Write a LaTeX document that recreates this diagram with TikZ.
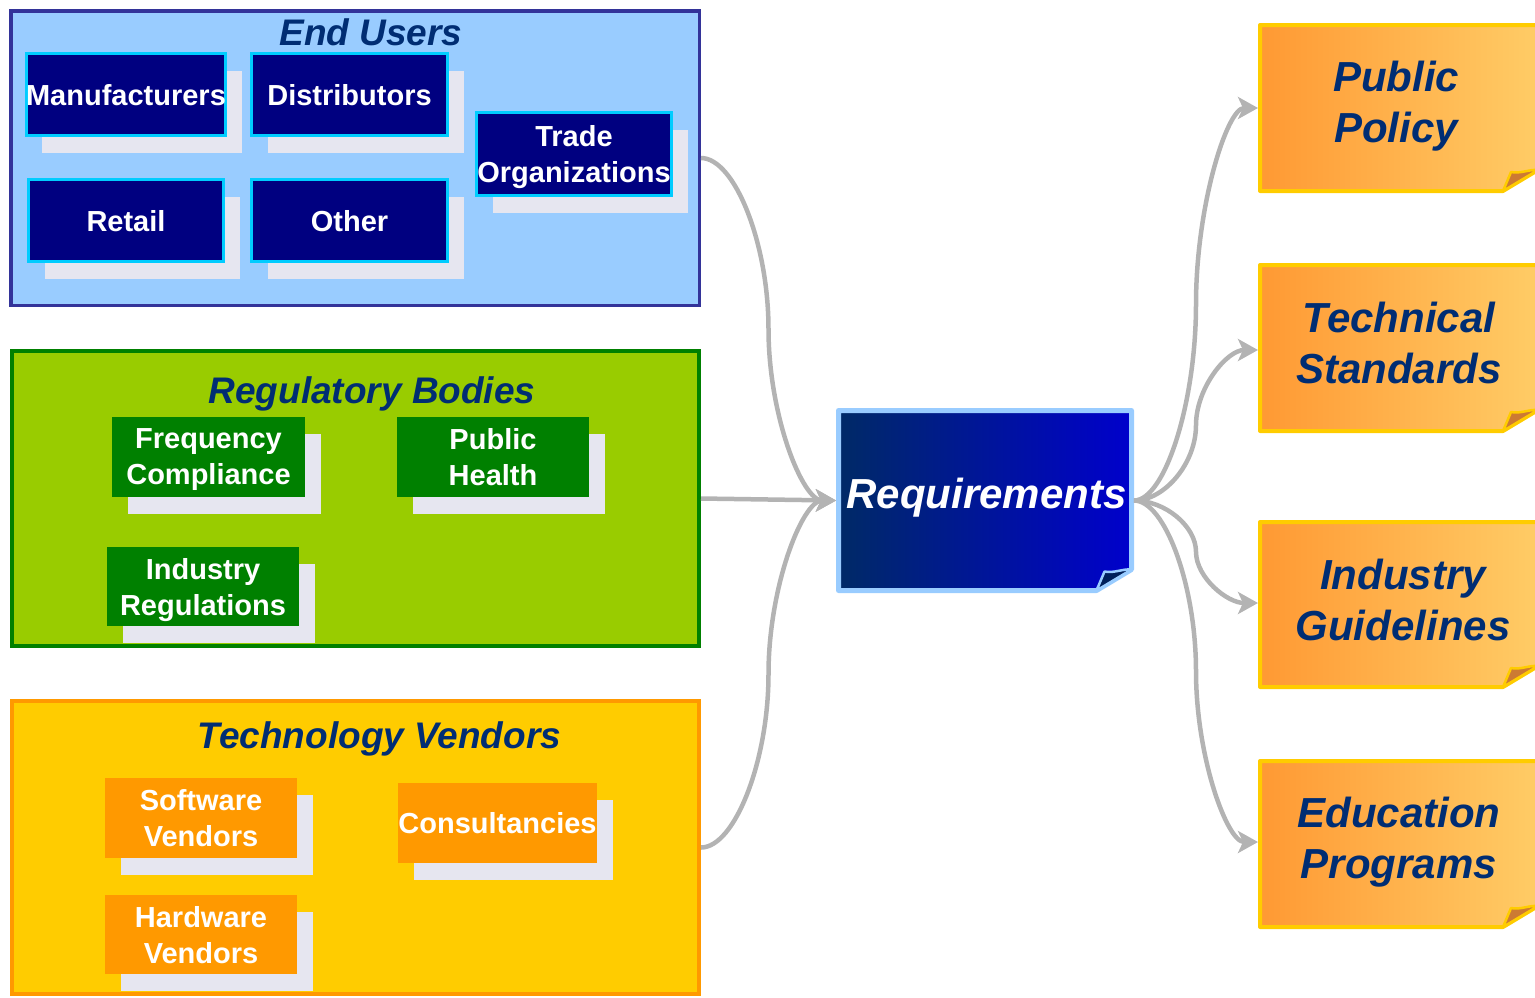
\documentclass[tikz,border=0pt]{standalone}
\usepackage{fontspec}
\setmainfont{Liberation Sans}
\usetikzlibrary{arrows.meta,shadows,calc}
\definecolor{euB}{RGB}{51,51,153}
\definecolor{euF}{RGB}{153,204,255}
\definecolor{rbB}{RGB}{0,128,0}
\definecolor{rbF}{RGB}{153,204,0}
\definecolor{tvB}{RGB}{255,153,0}
\definecolor{tvF}{RGB}{255,204,0}
\definecolor{navyb}{RGB}{0,0,128}
\definecolor{cyanb}{RGB}{0,204,255}
\definecolor{greenb}{RGB}{0,128,0}
\definecolor{orangeb}{RGB}{255,153,0}
\definecolor{shadowc}{RGB}{230,230,240}
\definecolor{titlec}{RGB}{0,45,115}
\definecolor{connc}{RGB}{179,179,179}
\definecolor{reqL}{RGB}{0,42,102}
\definecolor{reqR}{RGB}{0,0,204}
\definecolor{reqB}{RGB}{153,204,255}
\definecolor{reqFl}{RGB}{0,32,91}
\definecolor{ntL}{RGB}{255,153,51}
\definecolor{ntR}{RGB}{255,204,102}
\definecolor{ntB}{RGB}{255,204,0}
\definecolor{ntFl}{RGB}{204,122,51}
% dog-eared note: x0,y0,x1,y1,left,right,border,flap,linewidth
\newcommand{\dognote}[9]{%
  \shade[left color=#5, right color=#6] (#1,#2) -- (#3,#2) -- (#3,{#4-21}) -- ({#3-35},#4) -- (#1,#4) -- cycle;
  \draw[draw=#7, line width=#9, line join=round] (#1,#2) -- (#3,#2) -- (#3,{#4-21}) -- ({#3-35},#4) -- (#1,#4) -- cycle;
  \filldraw[fill=#8, draw=#7, line width=2.5pt, line join=round] ({#3-35},#4) -- ({#3-27},{#4-19}) .. controls ({#3-18},{#4-17}) and ({#3-8},{#4-22}) .. (#3,{#4-21}) -- cycle;
}
% curved connector (two cubic halves, vertical tangent at middle)
\newcommand{\cconn}[2]{%
  \draw[conn] let \p1=(#1), \p2=(#2) in (\p1)
    .. controls ({0.75*\x1+0.25*\x2},{\y1}) and ({0.5*\x1+0.5*\x2},{0.75*\y1+0.25*\y2})
    .. ({0.5*\x1+0.5*\x2},{0.5*\y1+0.5*\y2})
    .. controls ({0.5*\x1+0.5*\x2},{0.25*\y1+0.75*\y2}) and ({0.25*\x1+0.75*\x2},{\y2})
    .. (\p2);}
\begin{document}
\begin{tikzpicture}[x=1pt,y=-1pt,
  outerbox/.style={line width=3.5pt, inner sep=0pt},
  innerbox/.style={inner sep=0pt, align=center, text=white, text depth=0pt,
    font=\fontsize{29}{36}\selectfont\bfseries,
    drop shadow={shadow xshift=16pt, shadow yshift=-17pt, fill=shadowc, opacity=1}},
  eubox/.style={innerbox, fill=navyb, draw=cyanb, line width=3pt},
  rgbox/.style={innerbox, fill=greenb},
  tvbox/.style={innerbox, fill=orangeb},
  grouptitle/.style={anchor=base, text=titlec, font=\fontsize{37}{44}\selectfont\bfseries\itshape},
  notegeom/.style={draw=none, inner sep=0pt, outer sep=0pt, minimum width=282pt, minimum height=170pt},
  notetext/.style={align=center, text=titlec, inner sep=0pt, font=\fontsize{42}{51}\selectfont\bfseries\itshape},
  conn/.style={draw=connc, line width=4.5pt, -{Stealth[length=20pt, width=22pt, inset=5pt]}}
]
\useasboundingbox (0,0) rectangle (1535,997);
\clip (0,0) rectangle (1535,997);

% ---------- End Users ----------
\node[outerbox, draw=euB, fill=euF, minimum width=688.5pt, minimum height=294.5pt] (eu) at (355,158) {};
\node[grouptitle] (eut) at (371,45) {End Users};
\node[eubox, minimum width=195pt, minimum height=82pt] (manu) at (126,94.5) {Manufacturers};
\node[eubox, minimum width=196pt, minimum height=82pt] (dist) at (349.5,94.5) {Distributors};
\node[eubox, minimum width=195pt, minimum height=83pt] (trade) at (574,154) {Trade\\Organizations};
\node[eubox, minimum width=195pt, minimum height=82pt] (retail) at (126,220.5) {Retail};
\node[eubox, minimum width=196pt, minimum height=82pt] (other) at (349.5,220.5) {Other};

% ---------- Regulatory Bodies ----------
\node[outerbox, line width=4pt, draw=rbB, fill=rbF, minimum width=687pt, minimum height=295pt] (rb) at (355.5,498.5) {};
\node[grouptitle] (rbt) at (372,403) {Regulatory Bodies};
\node[rgbox, minimum width=193pt, minimum height=80pt] (freq) at (208.5,457) {Frequency\\Compliance};
\node[rgbox, minimum width=192pt, minimum height=80pt] (health) at (493,457) {Public\\Health};
\node[rgbox, minimum width=192pt, minimum height=79pt] (indreg) at (203,586.5) {Industry\\Regulations};

% ---------- Technology Vendors ----------
\node[outerbox, line width=4pt, draw=tvB, fill=tvF, minimum width=687pt, minimum height=293pt] (tv) at (355.5,847.5) {};
\node[grouptitle] (tvt) at (379.5,748) {Technology Vendors};
\node[tvbox, minimum width=192pt, minimum height=80pt] (soft) at (201,818) {Software\\Vendors};
\node[tvbox, minimum width=193pt, minimum height=80pt] (cons) at (497.5,823) {Consultancies};
\node[tvbox, minimum width=192pt, minimum height=79pt] (hard) at (201,934.5) {Hardware\\Vendors};

% ---------- Requirements ----------
\dognote{838.5}{410.5}{1131.5}{590.5}{reqL}{reqR}{reqB}{reqFl}{5pt}
\node[draw=none, inner sep=0pt, outer sep=0pt, minimum width=298pt, minimum height=185pt] (req) at (985,500.5) {};
\node[anchor=base, text=white, inner sep=0pt, font=\fontsize{42}{50}\selectfont\bfseries\itshape] (reqt) at (986.5,508) {Requirements};

% ---------- Outcome notes ----------
\dognote{1260}{25}{1538}{191}{ntL}{ntR}{ntB}{ntFl}{4pt}
\node[notegeom] (pp) at (1399,108) {};
\node[notetext] (ppt) at (1396,106) {Public\\Policy};

\dognote{1260}{265}{1538}{431}{ntL}{ntR}{ntB}{ntFl}{4pt}
\node[notegeom] (ts) at (1399,350) {};
\node[notetext] (tst) at (1399,343) {Technical\\Standards};

\dognote{1260}{522}{1538}{687}{ntL}{ntR}{ntB}{ntFl}{4pt}
\node[notegeom] (ig) at (1399,603) {};
\node[notetext] (igt) at (1403,600) {Industry\\Guidelines};

\dognote{1260}{761}{1538}{927}{ntL}{ntR}{ntB}{ntFl}{4pt}
\node[notegeom] (ep) at (1399,842) {};
\node[notetext] (ept) at (1399,842) {Education\\Programs};

% ---------- Connectors ----------
\cconn{eu.east}{req.west}
\draw[conn] (rb.east) -- (req.west);
\cconn{tv.east}{req.west}
\cconn{req.east}{pp.west}
\cconn{req.east}{ts.west}
\cconn{req.east}{ig.west}
\cconn{req.east}{ep.west}
\end{tikzpicture}
\end{document}
